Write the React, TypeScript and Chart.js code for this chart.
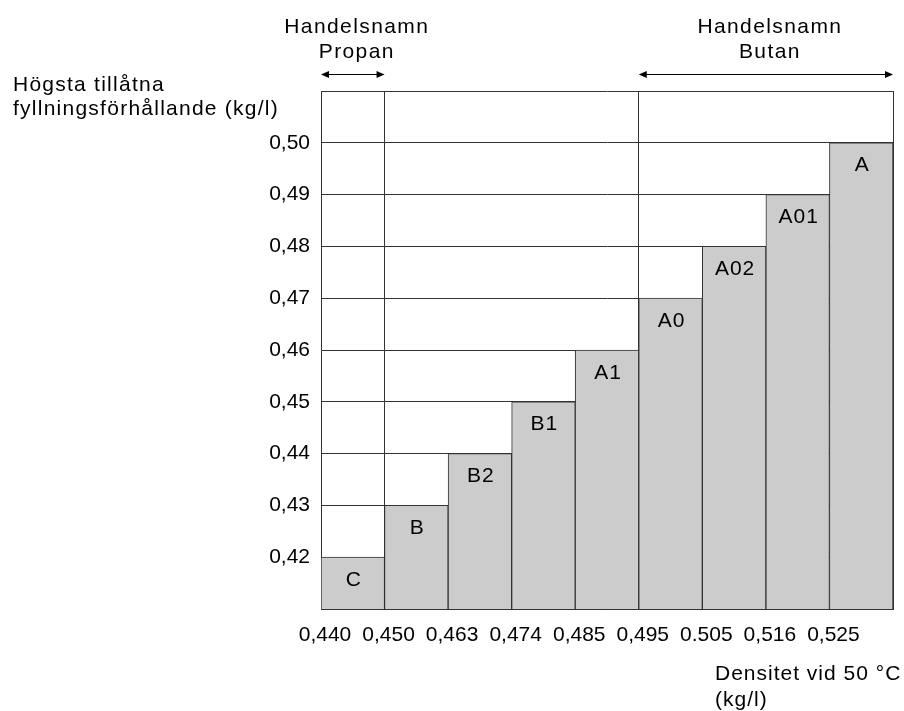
import React, { useEffect, useRef } from "react";
import { Chart, registerables } from "chart.js";

Chart.register(...registerables);

// Category names of the bars (left to right)
const barNames = ["C", "B", "B2", "B1", "A1", "A0", "A02", "A01", "A"];
// Highest permitted filling ratio (kg/l) for each bar
const fillRatios = [0.42, 0.43, 0.44, 0.45, 0.46, 0.47, 0.48, 0.49, 0.5];
// Density boundary labels at the left edge of each bar
const densityLabels = ["0,440", "0,450", "0,463", "0,474", "0,485", "0,495", "0.505", "0,516", "0,525"];
// Y tick labels (0.42 .. 0.50)
const yTickLabels = ["0,42", "0,43", "0,44", "0,45", "0,46", "0,47", "0,48", "0,49", "0,50"];
const yMin = 0.41;
const yMax = 0.51;
// Boundary indices where full-height separators are drawn (Propan | ... | Butan)
const separatorIdx = [1, 5];
const propanRange = [0, 1];
const butanRange = [5, 9];

const FONT = "'Liberation Sans', Arial, Helvetica, sans-serif";
const LINE = "#333333";

function drawArrow(ctx: CanvasRenderingContext2D, x1: number, x2: number, y: number) {
  const hl = 8;
  const hw = 3.5;
  ctx.save();
  ctx.strokeStyle = "#000";
  ctx.fillStyle = "#000";
  ctx.lineWidth = 1.2;
  ctx.beginPath();
  ctx.moveTo(x1 + hl - 1, y);
  ctx.lineTo(x2 - hl + 1, y);
  ctx.stroke();
  ctx.beginPath();
  ctx.moveTo(x1, y);
  ctx.lineTo(x1 + hl, y - hw);
  ctx.lineTo(x1 + hl, y + hw);
  ctx.closePath();
  ctx.fill();
  ctx.beginPath();
  ctx.moveTo(x2, y);
  ctx.lineTo(x2 - hl, y - hw);
  ctx.lineTo(x2 - hl, y + hw);
  ctx.closePath();
  ctx.fill();
  ctx.restore();
}

const annotations = {
  id: "annotations",
  afterDraw(chart: any) {
    const ctx: CanvasRenderingContext2D = chart.ctx;
    const xs = chart.scales.x;
    const area = chart.chartArea;
    ctx.save();
    ctx.fillStyle = "#000";
    // bar labels
    const meta = chart.getDatasetMeta(0);
    ctx.font = `21px ${FONT}`;
    (ctx as any).letterSpacing = "1px";
    ctx.textAlign = "center";
    ctx.textBaseline = "alphabetic";
    meta.data.forEach((el: any, i: number) => {
      ctx.fillText(barNames[i], el.x + 1, el.y + 28.5);
    });
    // top annotations
    (ctx as any).letterSpacing = "1.4px";
    const pMid = (xs.getPixelForValue(propanRange[0]) + xs.getPixelForValue(propanRange[1])) / 2 + 4;
    const bMid = (xs.getPixelForValue(butanRange[0]) + xs.getPixelForValue(butanRange[1])) / 2 + 4;
    ctx.fillText("Handelsnamn", pMid, area.top - 58.5);
    ctx.fillText("Propan", pMid, area.top - 33);
    ctx.fillText("Handelsnamn", bMid, area.top - 58.5);
    ctx.fillText("Butan", bMid, area.top - 33);
    // y title
    ctx.textAlign = "left";
    (ctx as any).letterSpacing = "1.25px";
    ctx.fillText("Högsta tillåtna", 13, area.top - 0.5);
    ctx.fillText("fyllningsförhållande (kg/l)", 13, area.top + 24);
    // x title
    (ctx as any).letterSpacing = "1px";
    ctx.fillText("Densitet vid 50 °C", 715, area.bottom + 71);
    ctx.fillText("(kg/l)", 715, area.bottom + 97);
    (ctx as any).letterSpacing = "0px";
    ctx.restore();
    drawArrow(ctx, xs.getPixelForValue(propanRange[0]), xs.getPixelForValue(propanRange[1]), area.top - 16.5);
    drawArrow(ctx, xs.getPixelForValue(butanRange[0]), xs.getPixelForValue(butanRange[1]), area.top - 16.5);
  },
};

export default function App() {
  const ref = useRef<HTMLCanvasElement | null>(null);
  useEffect(() => {
    if (!ref.current) return;
    const chart = new Chart(ref.current, {
      type: "bar",
      data: {
        datasets: [
          {
            data: fillRatios.map((v, i) => ({ x: i + 0.5, y: v })),
            backgroundColor: "#cccccc",
            borderColor: LINE,
            borderWidth: 1,
            borderSkipped: "start",
            barPercentage: 1,
            categoryPercentage: 1,
          } as any,
        ],
      },
      plugins: [annotations],
      options: {
        animation: false,
        responsive: true,
        maintainAspectRatio: false,
        events: [],
        layout: { padding: { top: 91, right: 11, left: 0, bottom: 0 } },
        plugins: { legend: { display: false }, tooltip: { enabled: false }, title: { display: false } },
        scales: {
          x: {
            type: "linear",
            min: 0,
            max: barNames.length,
            offset: false,
            afterFit: (s: any) => {
              s.height = 102;
              s.paddingRight = 0;
              s.paddingLeft = 0;
            },
            grid: {
              offset: false,
              drawTicks: false,
              lineWidth: 1,
              color: (c: any) =>
                separatorIdx.includes(c.tick?.value) || c.tick?.value === barNames.length ? LINE : "rgba(0,0,0,0)",
            },
            border: { display: true, color: LINE, width: 1 },
            ticks: {
              stepSize: 1,
              autoSkip: false,
              maxRotation: 0,
              padding: 14,
              labelOffset: 4,
              color: "#000",
              font: { family: FONT, size: 21 },
              callback: (v: any) => densityLabels[Math.round(Number(v))] ?? "",
            },
          },
          y: {
            type: "linear",
            min: yMin,
            max: yMax,
            afterFit: (s: any) => {
              s.width = 321;
              s.paddingTop = 0;
              s.paddingBottom = 0;
            },
            grid: { drawTicks: false, color: LINE, lineWidth: 1 },
            border: { display: true, color: LINE, width: 1 },
            ticks: {
              stepSize: 0.01,
              padding: 11,
              color: "#000",
              font: { family: FONT, size: 21 },
              callback: (v: any) => {
                const k = Math.round(Number(v) * 100) - 42;
                return yTickLabels[k] ?? "";
              },
            },
          },
        },
      } as any,
    });
    return () => chart.destroy();
  }, []);
  return (
    <div style={{ position: "fixed", left: 0, top: 0, width: 904, height: 711, background: "#fff" }}>
      <canvas ref={ref} />
    </div>
  );
}
